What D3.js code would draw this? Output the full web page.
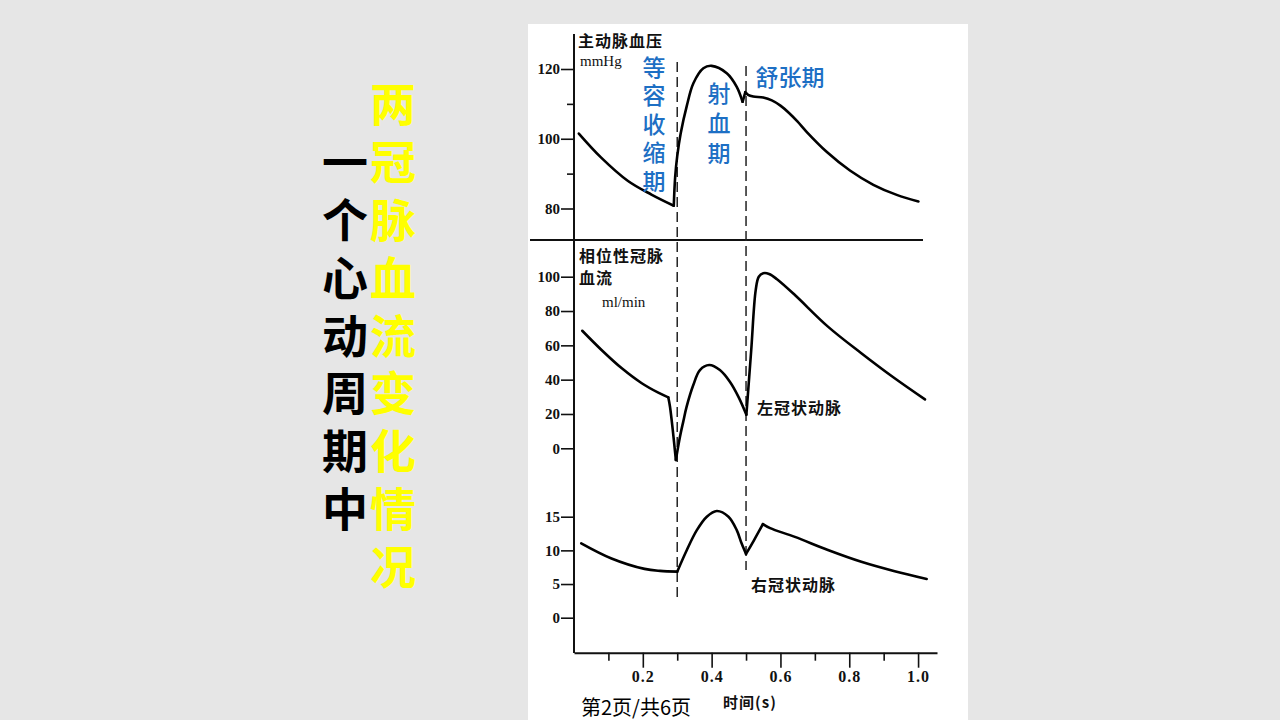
<!DOCTYPE html>
<html><head><meta charset="utf-8">
<script src="https://cdn.jsdelivr.net/npm/d3@7"></script>
<style>body{margin:0;background:#e6e6e6;} svg{display:block}</style>
</head><body>
<svg id="c" width="1280" height="720"></svg>
<script>
// ---------- data ----------
const titleBlack = "一个心动周期中";
const titleYellow = "两冠脉血流变化情况";
const phaseIso = "等容收缩期";
const phaseEject = "射血期";
const phaseDiastole = "舒张期";
const phaseBounds = [0.3, 0.5];

const xMajorTicks = [0.2, 0.4, 0.6, 0.8, 1.0];
const xMinorTicks = [0.1, 0.3, 0.5, 0.7, 0.9];

const aortaMajorTicks = [80, 100, 120];
const aortaMinorTicks = [90, 110];
const leftTicks = [0, 20, 40, 60, 80, 100];
const rightTicks = [0, 5, 10, 15];

// aortic pressure (mmHg)
const aortaT = [0.014,0.079,0.157,0.225,0.290, 0.294,0.300,0.310,0.328,0.347,0.376,0.400,0.444,0.473,0.490, 0.498, 0.506,0.521,0.550,0.575,0.600,0.625,0.650,0.676,0.735,0.802,0.870,0.938,1.001];
const aortaP = [101.5,94.6,87.9,84.0,80.8, 89.0,95.0,101.5,109.5,115.9,120.2,120.9,118.8,114.9,110.6, 113.4, 112.6,112.1,111.8,111.0,109.5,107.4,104.9,102.0,96.2,90.9,86.8,83.9,82.0];
const aortaBreaks = [4, 14, 15];

// left coronary flow (ml/min)
const leftT = [0.024,0.080,0.139,0.197,0.245,0.274, 0.279,0.287,0.296, 0.308,0.318,0.327,0.347,0.366,0.393,0.424,0.453,0.478,0.501, 0.515,0.528,0.537,0.550,0.567,0.590,0.642,0.738,0.835,0.932,1.020];
const leftV = [68.5,57.3,46.6,37.9,32.4,29.7, 24.2,10.7,-6.8, 6.8,16.0,24.0,37.0,45.6,48.5,45.6,38.8,30.0,19.6, 57.0,92.0,100.0,102.0,101.6,98.5,89.3,70.9,55.4,40.8,28.5];
const leftBreaks = [5, 8, 18];

// right coronary flow (ml/min)
const rightT = [0.021,0.109,0.205,0.250,0.300, 0.328,0.357,0.386,0.415,0.449,0.473,0.487,0.500, 0.523,0.549, 0.570,0.642,0.738,0.835,0.932,1.025];
const rightV = [11.05,8.8,7.25,6.95,6.84, 10.06,13.0,15.0,15.85,15.0,13.0,11.05,9.47, 11.5,13.9, 13.3,12.0,10.05,8.3,6.9,5.75];
const rightBreaks = [4, 12, 14];

// ---------- drawing ----------
const svg = d3.select("#c");
const CJK = "'Noto Sans CJK SC', sans-serif";
const SERIF = "'Liberation Serif', 'DejaVu Serif', serif";

// slide panel
svg.append("rect").attr("x",528).attr("y",24).attr("width",440).attr("height",696).attr("fill","#ffffff");

// vertical text helper (one text element, vertical writing mode)
function vtext(txt, cx, firstCenter, pitch, size, weight, fill){
  svg.append("text").attr("x",cx).attr("y",firstCenter - size/2)
    .style("writing-mode","vertical-rl").style("text-orientation","upright")
    .style("font-family",CJK).style("font-weight",weight).style("font-size",size+"px")
    .style("letter-spacing",(pitch-size)+"px")
    .attr("fill",fill).text(txt);
}
vtext(titleYellow, 393, 104, 57.8, 46, "bold", "#ffff00");
vtext(titleBlack, 345, 161.8, 57.8, 46, "bold", "#000000");

// scales
const x = d3.scaleLinear().domain([0, 1.055]).range([574, 937]);
const yTop = d3.scaleLinear().domain([80,120]).range([208.5, 69]);
const yMid = d3.scaleLinear().domain([0,100]).range([448.3, 276.7]);
const yBot = d3.scaleLinear().domain([0,15]).range([617.7, 516.7]);

// y axis line (continuous)
svg.append("line").attr("x1",574).attr("x2",574).attr("y1",34).attr("y2",653)
  .attr("stroke","#111").attr("stroke-width",2);
// separator
svg.append("line").attr("x1",530).attr("x2",923).attr("y1",240).attr("y2",240)
  .attr("stroke","#111").attr("stroke-width",2);

function yAxis(scale, major, minor){
  const g = svg.append("g").attr("transform","translate(574,0)");
  g.call(d3.axisLeft(scale).tickValues(major).tickSize(13).tickPadding(1).tickFormat(d3.format("d")));
  if (minor) g.append("g").call(d3.axisLeft(scale).tickValues(minor).tickSize(7).tickFormat(""));
  g.selectAll(".domain").remove();
  g.selectAll("line").attr("stroke","#111").attr("stroke-width",1.6);
  g.selectAll("text").attr("fill","#111").style("font-family",SERIF).style("font-size","15px").style("font-weight","bold");
}
yAxis(yTop, aortaMajorTicks, aortaMinorTicks);
yAxis(yMid, leftTicks, null);
yAxis(yBot, rightTicks, null);

// x axis
const gx = svg.append("g").attr("transform","translate(0,652.7)");
gx.call(d3.axisBottom(x).tickValues(xMajorTicks).tickSize(15).tickSizeOuter(0).tickFormat(d3.format(".1f")));
gx.append("g").call(d3.axisBottom(x).tickValues(xMinorTicks).tickSize(8).tickSizeOuter(0).tickFormat(""))
  .selectAll(".domain").remove();
gx.selectAll(".domain").attr("stroke","#111").attr("stroke-width",2);
gx.selectAll("line").attr("stroke","#111").attr("stroke-width",1.6);
gx.selectAll("text").attr("y",24).attr("dy","0.35em").attr("fill","#111")
  .style("font-family",SERIF).style("font-size","16px").style("font-weight","bold").style("letter-spacing","1px");

// dashed phase boundaries
const dashTop = [62, 66], dashBottom = [598, 570];
svg.append("g").selectAll("line").data(phaseBounds).join("line")
  .attr("x1",d=>x(d)).attr("x2",d=>x(d))
  .attr("y1",(d,i)=>dashTop[i]).attr("y2",(d,i)=>dashBottom[i])
  .attr("stroke","#222").attr("stroke-width",1.5).attr("stroke-dasharray","10,5");

// curves
function segments(ts, vs, breaks){
  const pts = ts.map((t,i)=>[t, vs[i]]);
  const cuts = [0, ...breaks, pts.length-1];
  const segs = [];
  for (let k=0;k<cuts.length-1;k++) segs.push(pts.slice(cuts[k], cuts[k+1]+1));
  return segs;
}
function drawSeries(ts, vs, breaks, yScale){
  const line = d3.line().x(d=>x(d[0])).y(d=>yScale(d[1])).curve(d3.curveCatmullRom.alpha(0.5));
  svg.append("g").selectAll("path").data(segments(ts, vs, breaks)).join("path")
    .attr("d", line).attr("fill","none").attr("stroke","#000")
    .attr("stroke-width",2.6).attr("stroke-linejoin","round").attr("stroke-linecap","round");
}
drawSeries(aortaT, aortaP, aortaBreaks, yTop);
drawSeries(leftT, leftV, leftBreaks, yMid);
drawSeries(rightT, rightV, rightBreaks, yBot);

// chart labels
function label(txt, lx, ly, size, opts={}){
  return svg.append("text").attr("x",lx).attr("y",ly).attr("dominant-baseline","central")
    .attr("text-anchor", opts.anchor || "start")
    .style("font-family", opts.family || CJK).style("font-size", size+"px")
    .style("font-weight", opts.weight || "bold").style("letter-spacing", (opts.ls||0)+"px")
    .attr("fill", opts.fill || "#111").text(txt);
}
label("主动脉血压", 578, 40, 16, {ls:1});
label("mmHg", 580, 61, 15, {family:SERIF, weight:"normal"});
label("相位性冠脉", 579, 255, 16, {ls:1});
label("血流", 579, 277, 16, {ls:1});
label("ml/min", 602, 302, 15, {family:SERIF, weight:"normal"});
label("左冠状动脉", 757, 407, 16, {ls:1});
label("右冠状动脉", 751, 584, 16, {ls:1});
label("时间(s)", 750, 701, 15, {anchor:"middle", ls:1});
label("第2页/共6页", 581, 706, 20, {weight:"normal", fill:"#000"});

// blue phase labels
const BLUE = "#1d6fc4";
vtext(phaseIso, 654, 67, 28.5, 23, "500", BLUE);
vtext(phaseEject, 719, 93, 30, 23, "500", BLUE);
label(phaseDiastole, 790, 76, 23, {anchor:"middle", weight:"500", fill:BLUE});
</script>
</body></html>
